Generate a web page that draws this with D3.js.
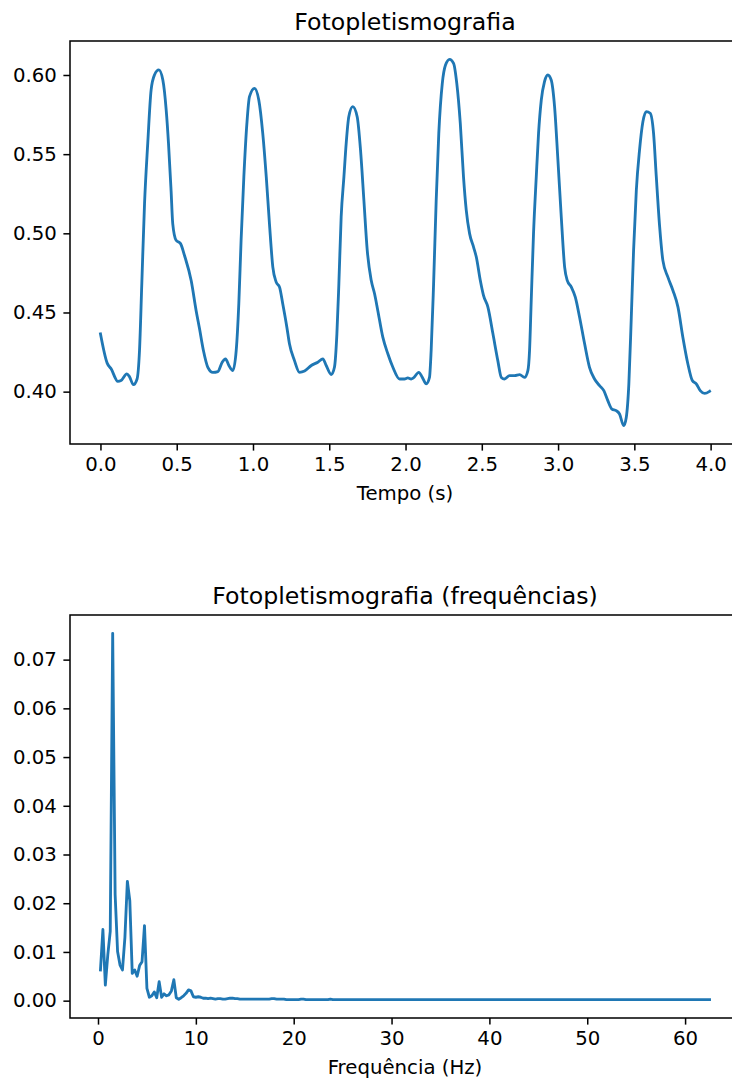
<!DOCTYPE html>
<html>
<head>
<meta charset="utf-8">
<script src="https://cdn.jsdelivr.net/npm/d3@7"></script>
<style>
  body { margin: 0; background: #fff; }
  svg { display: block; font-family: "DejaVu Sans", sans-serif; }
</style>
</head>
<body>
<svg id="figura" width="732" height="1079"></svg>
<script>
// sinal de fotopletismografia (tempo em s, amplitude)
var tempo = [0.000, 0.044, 0.070, 0.114, 0.135, 0.173, 0.190, 0.216, 0.240, 0.256,
    0.271, 0.289, 0.310, 0.332, 0.354, 0.383, 0.409, 0.431, 0.446, 0.463,
    0.474, 0.496, 0.525, 0.551, 0.595, 0.627, 0.649, 0.675, 0.704, 0.737,
    0.770, 0.798, 0.820, 0.842, 0.868, 0.890, 0.907, 0.922, 0.940, 0.960,
    0.977, 1.010, 1.038, 1.064, 1.087, 1.108, 1.130, 1.152, 1.174, 1.195,
    1.222, 1.239, 1.272, 1.305, 1.338, 1.382, 1.425, 1.458, 1.480, 1.513,
    1.534, 1.550, 1.563, 1.578, 1.596, 1.611, 1.628, 1.654, 1.683, 1.705,
    1.727, 1.749, 1.775, 1.797, 1.818, 1.851, 1.884, 1.917, 1.961, 1.993,
    2.015, 2.037, 2.052, 2.087, 2.110, 2.136, 2.157, 2.168, 2.184, 2.201,
    2.218, 2.241, 2.262, 2.289, 2.315, 2.336, 2.359, 2.380, 2.398, 2.420,
    2.446, 2.464, 2.490, 2.511, 2.540, 2.573, 2.605, 2.628, 2.649, 2.682,
    2.715, 2.748, 2.780, 2.802, 2.813, 2.824, 2.839, 2.857, 2.872, 2.890,
    2.911, 2.933, 2.955, 2.977, 2.999, 3.021, 3.043, 3.060, 3.087, 3.113,
    3.141, 3.174, 3.206, 3.239, 3.272, 3.300, 3.326, 3.353, 3.381, 3.403,
    3.430, 3.447, 3.464, 3.480, 3.495, 3.513, 3.534, 3.556, 3.578, 3.604,
    3.626, 3.644, 3.666, 3.687, 3.720, 3.753, 3.786, 3.818, 3.851, 3.880,
    3.906, 3.932, 3.961, 3.993];
var ppg = [0.4365, 0.4180, 0.4144, 0.4065, 0.4070, 0.4112, 0.4095, 0.4044, 0.4080, 0.4260,
    0.4680, 0.5188, 0.5568, 0.5905, 0.6000, 0.6032, 0.5968, 0.5778, 0.5570, 0.5270,
    0.5060, 0.4956, 0.4935, 0.4860, 0.4700, 0.4513, 0.4400, 0.4260, 0.4154, 0.4122,
    0.4127, 0.4186, 0.4207, 0.4165, 0.4133, 0.4260, 0.4555, 0.4956, 0.5356, 0.5694,
    0.5863, 0.5916, 0.5842, 0.5631, 0.5356, 0.5060, 0.4787, 0.4692, 0.4660, 0.4555,
    0.4407, 0.4302, 0.4196, 0.4122, 0.4130, 0.4165, 0.4186, 0.4207, 0.4165, 0.4108,
    0.4154, 0.4365, 0.4682, 0.5103, 0.5356, 0.5568, 0.5736, 0.5800, 0.5736, 0.5525,
    0.5209, 0.4892, 0.4703, 0.4618, 0.4513, 0.4344, 0.4239, 0.4154, 0.4080, 0.4080,
    0.4087, 0.4080, 0.4087, 0.4122, 0.4090, 0.4049, 0.4090, 0.4260, 0.4682, 0.5209,
    0.5631, 0.5947, 0.6063, 0.6099, 0.6074, 0.5947, 0.5694, 0.5356, 0.5146, 0.4998,
    0.4913, 0.4850, 0.4703, 0.4608, 0.4534, 0.4365, 0.4196, 0.4090, 0.4080, 0.4101,
    0.4101, 0.4108, 0.4090, 0.4133, 0.4260, 0.4576, 0.4998, 0.5356, 0.5631, 0.5842,
    0.5958, 0.6000, 0.5968, 0.5800, 0.5462, 0.5103, 0.4787, 0.4703, 0.4660, 0.4597,
    0.4470, 0.4302, 0.4154, 0.4080, 0.4038, 0.4006, 0.3943, 0.3890, 0.3880, 0.3859,
    0.3785, 0.3837, 0.4049, 0.4470, 0.4892, 0.5272, 0.5525, 0.5704, 0.5769, 0.5758,
    0.5631, 0.5356, 0.5040, 0.4829, 0.4723, 0.4639, 0.4534, 0.4344, 0.4175, 0.4070,
    0.4049, 0.4006, 0.3989, 0.4002];

// espectro (magnitude por bin de 0.25 Hz, de 0.25 a 62.5 Hz)
var passoFreq = 0.25;
var amplitude = [
    0.0063, 0.0146, 0.0032, 0.0094, 0.0142, 0.0754, 0.0218, 0.0101, 0.0073, 0.0063,
    0.0130, 0.0245, 0.0205, 0.0056, 0.0063, 0.0050, 0.0072, 0.0080, 0.0154, 0.0025,
    0.0007, 0.0010, 0.0018, 0.0006, 0.0039, 0.0007, 0.0014, 0.0010, 0.0012, 0.0020,
    0.0043, 0.0006, 0.0003, 0.0006, 0.0010, 0.0015, 0.0022, 0.0020, 0.0008,
    // 10 Hz em diante
    0.0007, 0.0008, 0.0007, 0.0005, 0.0005, 0.0004, 0.0005, 0.0004, 0.0003, 0.0004,
    0.0004, 0.0003, 0.0003, 0.0004, 0.0005, 0.0005, 0.0004, 0.0004, 0.0003, 0.0003,
    0.0003, 0.0003, 0.0003, 0.0003, 0.0003, 0.0003, 0.0003, 0.0003, 0.0003, 0.0003,
    0.0003, 0.0004, 0.0004, 0.0003, 0.0003, 0.0003, 0.0003, 0.0002, 0.0002, 0.0002,
    0.0002, 0.0002, 0.0002, 0.0003, 0.0003, 0.0002, 0.0002, 0.0002, 0.0002, 0.0002,
    0.0002, 0.0002, 0.0002, 0.0002, 0.0002, 0.0003, 0.0002, 0.0002, 0.0002, 0.0002,
    0.0002, 0.0002, 0.0002, 0.0002, 0.0002, 0.0002, 0.0002, 0.0002, 0.0002, 0.0002,
    0.0002, 0.0002, 0.0002, 0.0002, 0.0002, 0.0002, 0.0002, 0.0002, 0.0002, 0.0002,
    0.0002, 0.0002, 0.0002, 0.0002, 0.0002, 0.0002, 0.0002, 0.0002, 0.0002, 0.0002,
    0.0002, 0.0002, 0.0002, 0.0002, 0.0002, 0.0002, 0.0002, 0.0002, 0.0002, 0.0002,
    0.0002, 0.0002, 0.0002, 0.0002, 0.0002, 0.0002, 0.0002, 0.0002, 0.0002, 0.0002,
    0.0002, 0.0002, 0.0002, 0.0002, 0.0002, 0.0002, 0.0002, 0.0002, 0.0002, 0.0002,
    0.0002, 0.0002, 0.0002, 0.0002, 0.0002, 0.0002, 0.0002, 0.0002, 0.0002, 0.0002,
    0.0002, 0.0002, 0.0002, 0.0002, 0.0002, 0.0002, 0.0002, 0.0002, 0.0002, 0.0002,
    0.0002, 0.0002, 0.0002, 0.0002, 0.0002, 0.0002, 0.0002, 0.0002, 0.0002, 0.0002,
    0.0002, 0.0002, 0.0002, 0.0002, 0.0002, 0.0002, 0.0002, 0.0002, 0.0002, 0.0002,
    0.0002, 0.0002, 0.0002, 0.0002, 0.0002, 0.0002, 0.0002, 0.0002, 0.0002, 0.0002,
    0.0002, 0.0002, 0.0002, 0.0002, 0.0002, 0.0002, 0.0002, 0.0002, 0.0002, 0.0002,
    0.0002, 0.0002, 0.0002, 0.0002, 0.0002, 0.0002, 0.0002, 0.0002, 0.0002, 0.0002,
    0.0002, 0.0002, 0.0002, 0.0002, 0.0002, 0.0002, 0.0002, 0.0002, 0.0002, 0.0002,
    0.0002, 0.0002, 0.0002, 0.0002, 0.0002, 0.0002, 0.0002, 0.0002, 0.0002, 0.0002,
    0.0002];
var frequencia = amplitude.map(function (d, i) { return (i + 1) * passoFreq; });

var ticksTempo = [0, 0.5, 1, 1.5, 2, 2.5, 3, 3.5, 4];
var ticksPpg = [0.40, 0.45, 0.50, 0.55, 0.60];
var ticksFreq = [0, 10, 20, 30, 40, 50, 60];
var ticksAmp = [0, 0.01, 0.02, 0.03, 0.04, 0.05, 0.06, 0.07];

// escala pt -> px (figura ~136 dpi); texto um pouco maior
var pt = 136 / 72;
var ptTexto = 142 / 72;
var azul = "#1f77b4";

var svg = d3.select("#figura");

function margem(ext) {
    var p = (ext[1] - ext[0]) * 0.05;
    return [ext[0] - p, ext[1] + p];
}

function painel(cfg) {
    var left = 70, right = 740, top = cfg.top, bottom = cfg.top + 403;

    var x = d3.scaleLinear().domain(margem(d3.extent(cfg.xs))).range([left, right]);
    var y = d3.scaleLinear().domain(margem(d3.extent(cfg.ys))).range([bottom, top]);

    var g = svg.append("g");

    var eixoX = g.append("g")
        .attr("transform", "translate(0," + bottom + ")")
        .call(d3.axisBottom(x).tickValues(cfg.xticks).tickFormat(cfg.xfmt)
            .tickSize(3.5 * pt).tickPadding(3.5 * pt));
    var eixoY = g.append("g")
        .attr("transform", "translate(" + left + ",0)")
        .call(d3.axisLeft(y).tickValues(cfg.yticks).tickFormat(cfg.yfmt)
            .tickSize(3.5 * pt).tickPadding(3.5 * pt));

    [eixoX, eixoY].forEach(function (e) {
        e.select(".domain").remove();
        e.selectAll(".tick line").attr("stroke", "#000").attr("stroke-width", 0.8 * pt);
        e.selectAll(".tick text")
            .attr("fill", "#000")
            .style("font-family", "DejaVu Sans")
            .style("font-size", (10 * ptTexto) + "px");
    });

    var linha = d3.line()
        .x(function (d, i) { return x(cfg.xs[i]); })
        .y(function (d) { return y(d); })
        .curve(cfg.curva);

    g.append("path")
        .datum(cfg.ys)
        .attr("fill", "none")
        .attr("stroke", azul)
        .attr("stroke-width", 1.5 * pt)
        .attr("stroke-linejoin", "round")
        .attr("stroke-linecap", "square")
        .attr("d", linha);

    g.append("rect")
        .attr("x", left).attr("y", top)
        .attr("width", right - left).attr("height", bottom - top)
        .attr("fill", "none")
        .attr("stroke", "#000")
        .attr("stroke-width", 0.8 * pt);

    var cx = (left + right) / 2;
    g.append("text")
        .attr("x", cx).attr("y", top - 6 * pt)
        .attr("text-anchor", "middle")
        .style("font-size", (12 * ptTexto) + "px")
        .text(cfg.titulo);

    g.append("text")
        .attr("x", cx).attr("y", bottom + 7 * pt + 10 * ptTexto + 4 * pt + 0.76 * 10 * ptTexto + 1)
        .attr("text-anchor", "middle")
        .style("font-size", (10 * ptTexto) + "px")
        .text(cfg.rotulo);
}

painel({
    top: 41, xs: tempo, ys: ppg,
    xticks: ticksTempo, xfmt: d3.format(".1f"),
    yticks: ticksPpg, yfmt: d3.format(".2f"),
    titulo: "Fotopletismografia", rotulo: "Tempo (s)",
    curva: d3.curveMonotoneX
});

painel({
    top: 615, xs: frequencia, ys: amplitude,
    xticks: ticksFreq, xfmt: d3.format("d"),
    yticks: ticksAmp, yfmt: d3.format(".2f"),
    titulo: "Fotopletismografia (frequências)", rotulo: "Frequência (Hz)",
    curva: d3.curveLinear
});
</script>
</body>
</html>
